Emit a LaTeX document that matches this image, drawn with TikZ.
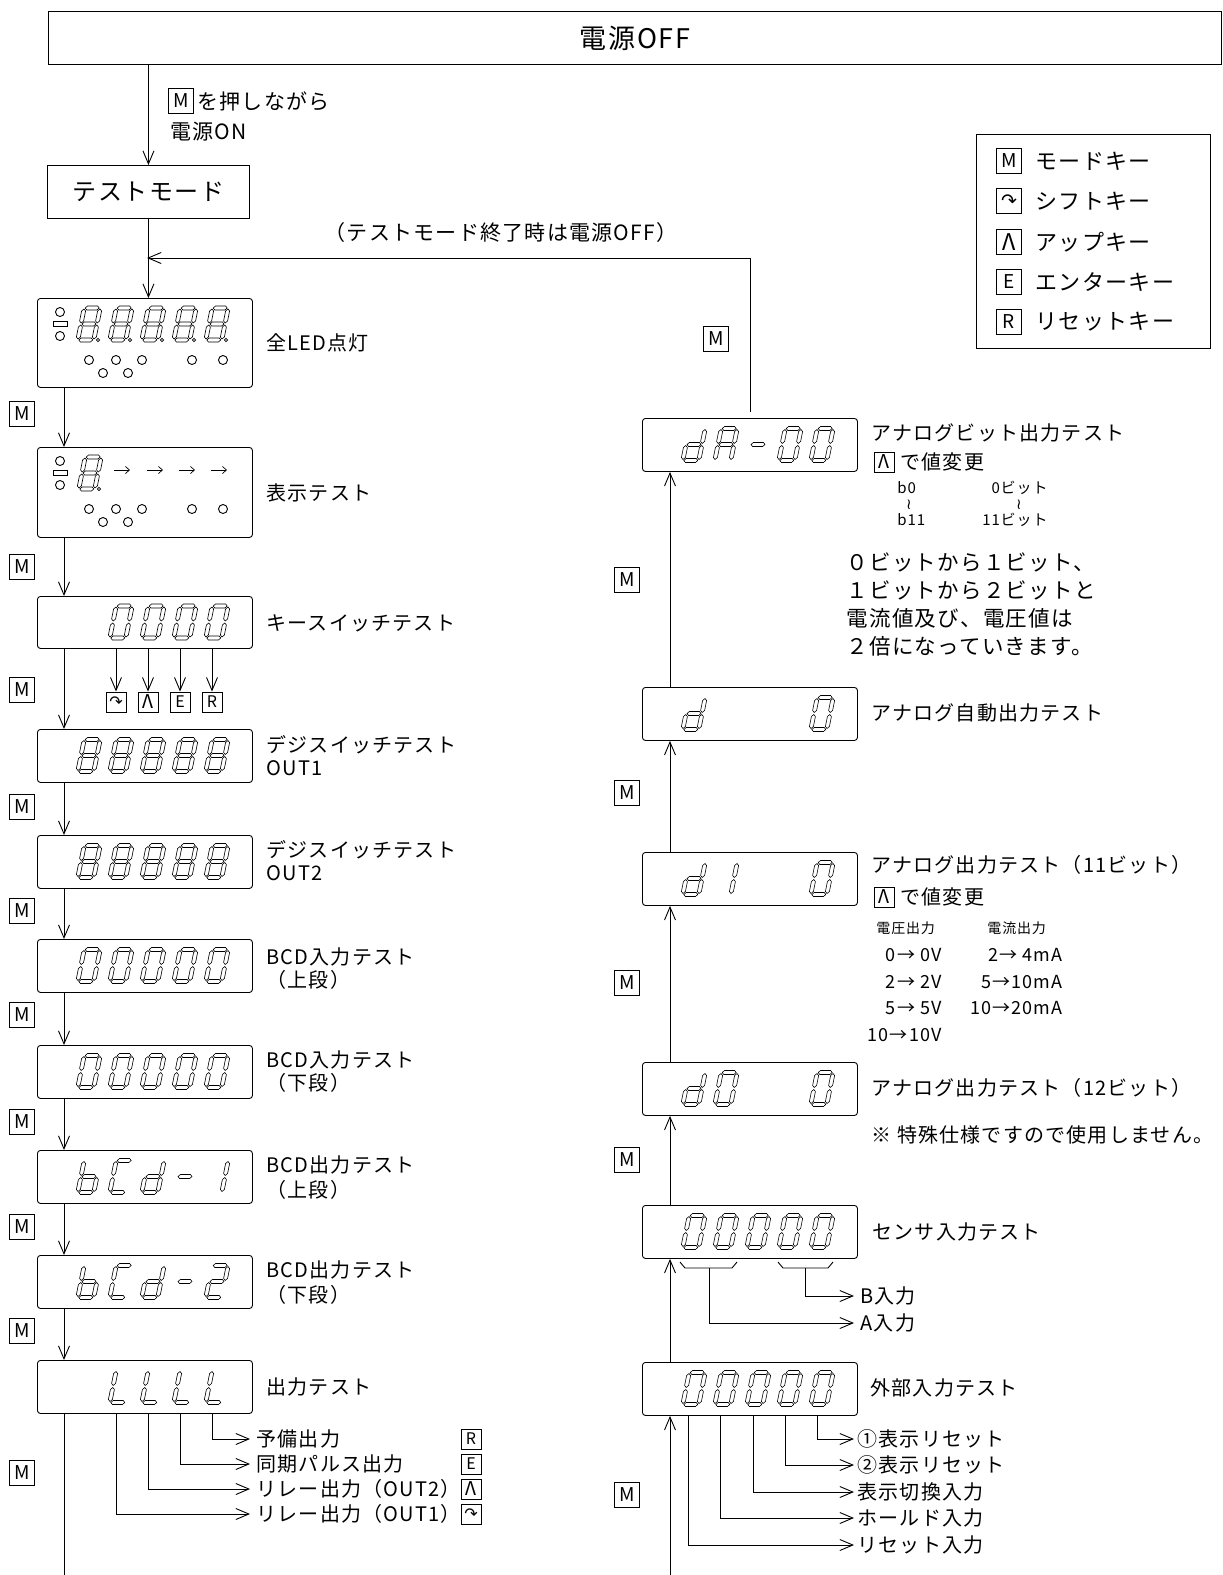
\documentclass[tikz,border=0pt]{standalone}
\usepackage{fontspec}
\setmainfont{Noto Sans CJK JP}[LetterSpace=6]
\newfontfamily\symfont{DejaVu Sans}
\usetikzlibrary{arrows.meta,calc}

\newcommand{\hseg}[3]{\draw[segline] (#1,#3) -- (#1+2,#3-2) -- (#2-2,#3-2) -- (#2,#3) -- (#2-2,#3+2) -- (#1+2,#3+2) -- cycle;}
\newcommand{\vseg}[3]{\draw[segline] (#1,#2) -- (#1+2,#2+2) -- (#1+2,#3-2) -- (#1,#3) -- (#1-2,#3-2) -- (#1-2,#2+2) -- cycle;}
\newcommand{\lsega}{\hseg{-7}{7}{-16}}
\newcommand{\lsegb}{\vseg{8}{-15}{-1}}
\newcommand{\lsegc}{\vseg{8}{1}{15}}
\newcommand{\lsegd}{\hseg{-7}{7}{16}}
\newcommand{\lsege}{\vseg{-8}{1}{15}}
\newcommand{\lsegf}{\vseg{-8}{-15}{-1}}
\newcommand{\lsegg}{\hseg{-7}{7}{0}}
\newcommand{\ledchar}[3]{\begin{scope}[shift={(#1,#2)},xslant=0.2]\foreach \s in #3 {\csname lseg\s\endcsname}\end{scope}}
\newcommand{\leddot}[2]{\draw[segline] (#1+9,#2+16) circle (1.6);}
\newcommand{\ledlamps}[1]{%
  \draw (60,#1+14) circle (4.5);
  \draw (53,#1+23) rectangle (67,#1+28);
  \draw (60,#1+38) circle (4.5);
  \foreach \x in {89,116,142,192,223} \draw (\x,#1+62) circle (4.5);
  \foreach \x in {103,128} \draw (\x,#1+75) circle (4.5);}
\newcommand{\upkey}{{\fontsize{23}{23}\selectfont Λ}}
\newcommand{\upsmall}{{\fontsize{19}{19}\selectfont Λ}}

\def\dgeight{a,b,c,d,e,f,g}
\def\dgzero{a,b,c,d,e,f}
\def\dgb{c,d,e,f,g}
\def\dgc{a,d,e,f}
\def\dgd{b,c,d,e,g}
\def\dgdash{g}
\def\dgone{b,c}
\def\dgtwo{a,b,g,e,d}
\def\dgl{d,e,f}
\def\dga{a,b,c,e,f,g}

\begin{document}
\begin{tikzpicture}[x=1pt, y=-1pt, line width=0.9pt,
  every node/.style={inner sep=0pt},
  plainbox/.style={draw, anchor=north west},
  ledbox/.style={draw, rounded corners=3pt, anchor=north west, minimum width=215, minimum height=53},
  key/.style={draw, minimum width=25, minimum height=25, font=\fontsize{19}{19}\selectfont},
  smallkey/.style={draw, minimum width=20, minimum height=20, font=\fontsize{16}{16}\selectfont},
  lbl/.style={anchor=west, font=\fontsize{20}{24}\selectfont},
  outlbl/.style={lbl, inner xsep=6pt},
  tiny/.style={font=\fontsize{15}{17}\selectfont},
  val/.style={anchor=east, font=\fontsize{18}{20}\selectfont},
  flow/.style={-{Straight Barb[length=13pt,width=11pt]}},
  segline/.style={line width=0.6pt}]
\path[use as bounding box] (0,0) rectangle (1223,1575);

\node[plainbox, minimum width=1173, minimum height=53, font=\fontsize{27}{30}\selectfont] (off) at (48,11) {電源OFF};
\node[plainbox, minimum width=202, minimum height=53, font=\fontsize{24}{28}\selectfont] (tm) at (47,165) {テストモード};
\draw[flow] (off.south -| tm.north) -- (tm.north);
\node[key] (kon) at (181,101) {M};
\node[lbl, font=\fontsize{21}{24}\selectfont] (konx) at (197,101) {を押しながら};
\node[lbl, font=\fontsize{21}{24}\selectfont] (ont) at (170,132) {電源ON};

\node[draw, anchor=north west, minimum width=234, minimum height=214] (legend) at (976,134) {};
\node[key] (lg1) at (1009,161) {M};
\node[key] (lg2) at (1009,201) {\symfont ↷};
\node[key] (lg3) at (1009,242) {\upkey};
\node[key] (lg4) at (1009,282) {E};
\node[key] (lg5) at (1009,322) {R};
\node[lbl, font=\fontsize{22}{24}\selectfont] (lg1t) at (1035,161) {モードキー};
\node[lbl, font=\fontsize{22}{24}\selectfont] (lg2t) at (1035,201) {シフトキー};
\node[lbl, font=\fontsize{22}{24}\selectfont] (lg3t) at (1035,242) {アップキー};
\node[lbl, font=\fontsize{22}{24}\selectfont] (lg4t) at (1035,282) {エンターキー};
\node[lbl, font=\fontsize{22}{24}\selectfont] (lg5t) at (1035,322) {リセットキー};

\node[ledbox, minimum height=89] (b1) at (37,298) {};
\node[ledbox, minimum height=90] (b2) at (37,447) {};
\node[ledbox, minimum height=52] (b3) at (37,596) {};
\node[ledbox] (b4) at (37,729) {};
\node[ledbox] (b5) at (37,835) {};
\node[ledbox] (b6) at (37,939) {};
\node[ledbox] (b7) at (37,1045) {};
\node[ledbox] (b8) at (37,1150) {};
\node[ledbox] (b9) at (37,1255) {};
\node[ledbox] (b10) at (37,1360) {};

\node[ledbox] (r1) at (642,418) {};
\node[ledbox] (r2) at (642,687) {};
\node[ledbox] (r3) at (642,852) {};
\node[ledbox] (r4) at (642,1062) {};
\node[ledbox] (r5) at (642,1205) {};
\node[ledbox] (r6) at (642,1362) {};

\ledlamps{298}
\foreach \x in {89,121,153,185,217} {\ledchar{\x}{324}{\dgeight}\leddot{\x}{324}}
\ledlamps{447}
\ledchar{90}{473}{\dgeight}\leddot{90}{473}
\foreach \x in {114,147,179,211} \draw[-{Straight Barb[length=4pt,width=7pt]}, line width=0.7pt] (\x,470) -- (\x+16,470);
\foreach \x in {121,153,185,217} {\ledchar{\x}{622}{\dgzero}}
\foreach \x in {89,121,153,185,217} {\ledchar{\x}{755.5}{\dgeight}}
\foreach \x in {89,121,153,185,217} {\ledchar{\x}{861.5}{\dgeight}}
\foreach \x in {89,121,153,185,217} {\ledchar{\x}{965.5}{\dgzero}}
\foreach \x in {89,121,153,185,217} {\ledchar{\x}{1071.5}{\dgzero}}
\ledchar{89}{1176.5}{\dgb}\ledchar{121}{1176.5}{\dgc}\ledchar{153}{1176.5}{\dgd}\ledchar{185}{1176.5}{\dgdash}\ledchar{217}{1176.5}{\dgone}
\ledchar{89}{1281.5}{\dgb}\ledchar{121}{1281.5}{\dgc}\ledchar{153}{1281.5}{\dgd}\ledchar{185}{1281.5}{\dgdash}\ledchar{217}{1281.5}{\dgtwo}
\foreach \x in {121,153,185,217} {\ledchar{\x}{1386.5}{\dgl}}

\ledchar{694}{444.5}{\dgd}\ledchar{726}{444.5}{\dga}\ledchar{758}{444.5}{\dgdash}\ledchar{790}{444.5}{\dgzero}\ledchar{822}{444.5}{\dgzero}
\ledchar{694}{713.5}{\dgd}\ledchar{822}{713.5}{\dgzero}
\ledchar{694}{878.5}{\dgd}\ledchar{726}{878.5}{\dgone}\ledchar{822}{878.5}{\dgzero}
\ledchar{694}{1088.5}{\dgd}\ledchar{726}{1088.5}{\dgzero}\ledchar{822}{1088.5}{\dgzero}
\foreach \x in {694,726,758,790,822} {\ledchar{\x}{1231.5}{\dgzero}}
\foreach \x in {694,726,758,790,822} {\ledchar{\x}{1388.5}{\dgzero}}

\node[lbl] (t1) at (266,343) {全LED点灯};
\node[lbl] (t2) at (266,493) {表示テスト};
\node[lbl] (t3) at (266,623) {キースイッチテスト};
\node[lbl] (t4a) at (266,745) {デジスイッチテスト};
\node[lbl] (t4b) at (266,768) {OUT1};
\node[lbl] (t5a) at (266,850) {デジスイッチテスト};
\node[lbl] (t5b) at (266,873) {OUT2};
\node[lbl] (t6a) at (266,957) {BCD入力テスト};
\node[lbl] (t6b) at (266,980) {（上段）};
\node[lbl] (t7a) at (266,1060) {BCD入力テスト};
\node[lbl] (t7b) at (266,1083) {（下段）};
\node[lbl] (t8a) at (266,1165) {BCD出力テスト};
\node[lbl] (t8b) at (266,1190) {（上段）};
\node[lbl] (t9a) at (266,1270) {BCD出力テスト};
\node[lbl] (t9b) at (266,1295) {（下段）};
\node[lbl] (t10) at (266,1387) {出力テスト};

\draw[flow] (tm.south) -- (tm.south |- b1.north);
\draw[flow] ([xshift=27]b1.south west) -- ([xshift=27]b2.north west);
\draw[flow] ([xshift=27]b2.south west) -- ([xshift=27]b3.north west);
\draw[flow] ([xshift=27]b3.south west) -- ([xshift=27]b4.north west);
\draw[flow] ([xshift=27]b4.south west) -- ([xshift=27]b5.north west);
\draw[flow] ([xshift=27]b5.south west) -- ([xshift=27]b6.north west);
\draw[flow] ([xshift=27]b6.south west) -- ([xshift=27]b7.north west);
\draw[flow] ([xshift=27]b7.south west) -- ([xshift=27]b8.north west);
\draw[flow] ([xshift=27]b8.south west) -- ([xshift=27]b9.north west);
\draw[flow] ([xshift=27]b9.south west) -- ([xshift=27]b10.north west);
\coordinate (lbot) at (64,1575);
\draw ([xshift=27]b10.south west) -- (lbot);

\node[key] (m1) at (22,414) {M};
\node[key] (m2) at (22,567) {M};
\node[key] (m3) at (22,690) {M};
\node[key] (m4) at (22,807) {M};
\node[key] (m5) at (22,911) {M};
\node[key] (m6) at (22,1015) {M};
\node[key] (m7) at (22,1122) {M};
\node[key] (m8) at (22,1227) {M};
\node[key] (m9) at (22,1331) {M};
\node[key] (m10) at (22,1473) {M};

\node[smallkey] (ks1) at (116,702) {\symfont ↷};
\node[smallkey] (ks2) at (148,702) {\upsmall};
\node[smallkey] (ks3) at (180,702) {E};
\node[smallkey] (ks4) at (212,702) {R};
\draw[flow] (ks1.north |- b3.south) -- (ks1.north);
\draw[flow] (ks2.north |- b3.south) -- (ks2.north);
\draw[flow] (ks3.north |- b3.south) -- (ks3.north);
\draw[flow] (ks4.north |- b3.south) -- (ks4.north);

\node[outlbl] (o1) at (250,1439) {予備出力};
\node[outlbl] (o2) at (250,1464) {同期パルス出力};
\node[outlbl] (o3) at (250,1489) {リレー出力（OUT2）};
\node[outlbl] (o4) at (250,1514) {リレー出力（OUT1）};
\draw[flow] ([xshift=175]b10.south west) |- (o1.west);
\draw[flow] ([xshift=143]b10.south west) |- (o2.west);
\draw[flow] ([xshift=111]b10.south west) |- (o3.west);
\draw[flow] ([xshift=79]b10.south west) |- (o4.west);
\node[smallkey] (ok1) at (471,1439) {R};
\node[smallkey] (ok2) at (471,1464) {E};
\node[smallkey] (ok3) at (471,1489) {\upsmall};
\node[smallkey] (ok4) at (471,1514) {\symfont ↷};

\coordinate (fb) at (147,258);
\draw[flow, shorten <=6pt] (r1.north) |- (fb);
\node[lbl, anchor=center, font=\fontsize{21}{24}\selectfont] (fbt) at (501,233) {（テストモード終了時は電源OFF）};
\node[key] (mfb) at (716,339) {M};

\coordinate (rbot) at (670,1575);
\draw[flow] (rbot) -- ([xshift=28]r6.south west);
\draw[flow] ([xshift=28]r6.north west) -- ([xshift=28]r5.south west);
\draw[flow] ([xshift=28]r5.north west) -- ([xshift=28]r4.south west);
\draw[flow] ([xshift=28]r4.north west) -- ([xshift=28]r3.south west);
\draw[flow] ([xshift=28]r3.north west) -- ([xshift=28]r2.south west);
\draw[flow] ([xshift=28]r2.north west) -- ([xshift=28]r1.south west);
\node[key] (n1) at (627,580) {M};
\node[key] (n2) at (627,793) {M};
\node[key] (n3) at (627,983) {M};
\node[key] (n4) at (627,1160) {M};
\node[key] (n5) at (627,1495) {M};

\node[lbl] (u1) at (871,433) {アナログビット出力テスト};
\node[smallkey] (u1k) at (884,462) {\upsmall};
\node[lbl] (u1v) at (900,462) {で値変更};
\node[tiny, anchor=west] (u1b0) at (897,488) {b0};
\node[tiny] (u1w1) at (909,505) {\symfont ≀};
\node[tiny, anchor=west] (u1b11) at (897,520) {b11};
\node[tiny, anchor=east] (u1c0) at (1048,488) {0ビット};
\node[tiny] (u1w2) at (1019,505) {\symfont ≀};
\node[tiny, anchor=east] (u1c11) at (1048,520) {11ビット};
\node[lbl, font=\fontsize{21.5}{24}\selectfont] (p1) at (846,562) {０ビットから１ビット、};
\node[lbl, font=\fontsize{21.5}{24}\selectfont] (p2) at (846,590) {１ビットから２ビットと};
\node[lbl, font=\fontsize{21.5}{24}\selectfont] (p3) at (846,618) {電流値及び、電圧値は};
\node[lbl, font=\fontsize{21.5}{24}\selectfont] (p4) at (846,646) {２倍になっていきます。};

\node[lbl] (u2) at (871,713) {アナログ自動出力テスト};

\node[lbl] (u3) at (871,865) {アナログ出力テスト（11ビット）};
\node[smallkey] (u3k) at (884,897) {\upsmall};
\node[lbl] (u3v) at (900,897) {で値変更};
\node[tiny, anchor=west, font=\fontsize{14}{16}\selectfont] (u3h1) at (876,928) {電圧出力};
\node[tiny, anchor=west, font=\fontsize{14}{16}\selectfont] (u3h2) at (987,928) {電流出力};
\node[val] (v1) at (942,955) {0→ 0V};
\node[val] (v2) at (942,982) {2→ 2V};
\node[val] (v3) at (942,1008) {5→ 5V};
\node[val] (v4) at (942,1035) {10→10V};
\node[val] (c1) at (1063,955) {2→ 4mA};
\node[val] (c2) at (1063,982) {5→10mA};
\node[val] (c3) at (1063,1008) {10→20mA};

\node[lbl] (u4) at (871,1088) {アナログ出力テスト（12ビット）};
\node[lbl] (u4n) at (871,1135) {※ 特殊仕様ですので使用しません。};

\node[lbl] (u5) at (872,1232) {センサ入力テスト};
\draw (680,1262) -- (685,1268) -- (732,1268) -- (737,1262);
\draw (778,1262) -- (783,1268) -- (828,1268) -- (833,1262);
\coordinate (ba) at (709,1268);
\coordinate (bb) at (805,1268);
\node[outlbl] (ib) at (854,1296) {B入力};
\node[outlbl] (ia) at (854,1323) {A入力};
\draw[flow] (bb) |- (ib.west);
\draw[flow] (ba) |- (ia.west);

\node[lbl] (u6) at (870,1388) {外部入力テスト};
\node[outlbl, inner xsep=3pt] (e1) at (854,1439) {①表示リセット};
\node[outlbl, inner xsep=3pt] (e2) at (854,1465) {②表示リセット};
\node[outlbl, inner xsep=3pt] (e3) at (854,1492) {表示切換入力};
\node[outlbl, inner xsep=3pt] (e4) at (854,1518) {ホールド入力};
\node[outlbl, inner xsep=3pt] (e5) at (854,1545) {リセット入力};
\draw[flow] ([xshift=175]r6.south west) |- (e1.west);
\draw[flow] ([xshift=143]r6.south west) |- (e2.west);
\draw[flow] ([xshift=111]r6.south west) |- (e3.west);
\draw[flow] ([xshift=78]r6.south west) |- (e4.west);
\draw[flow] ([xshift=46]r6.south west) |- (e5.west);
\end{tikzpicture}
\end{document}
